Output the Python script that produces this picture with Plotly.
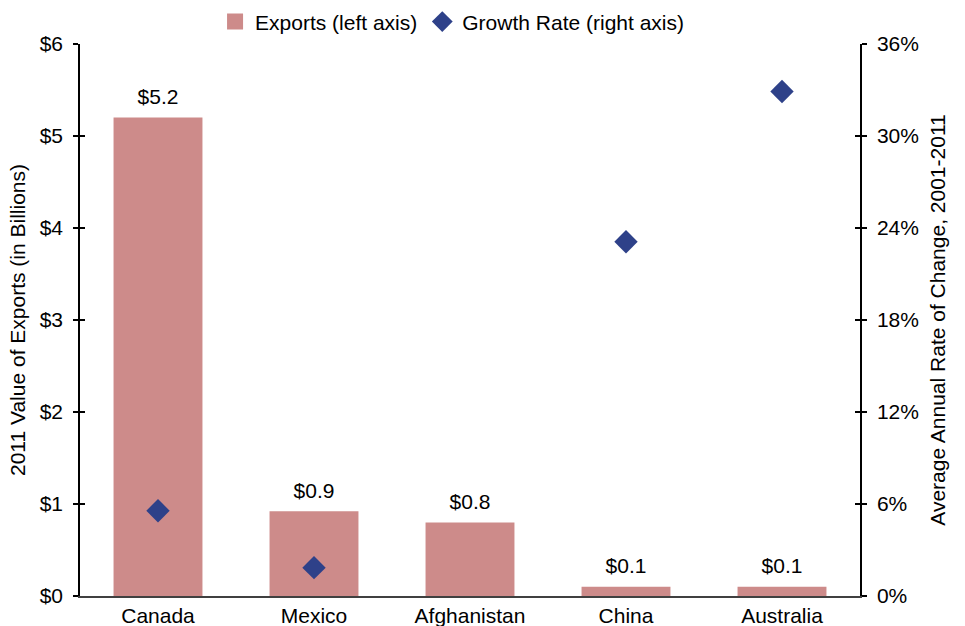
import plotly.graph_objects as go

# Top export destinations, 2011
countries = ["Canada", "Mexico", "Afghanistan", "China", "Australia"]
exports_bn = [5.2, 0.92, 0.80, 0.10, 0.10]          # 2011 value of exports, $ billions
growth_pct = [5.56, 1.85, 0, 23.1, 32.9]             # avg annual rate of change 2001-2011, %
growth_shown = [True, True, False, True, True]

left_ticks = [0, 1, 2, 3, 4, 5, 6]
left_labels = ["$0", "$1", "$2", "$3", "$4", "$5", "$6"]
right_ticks = [0, 6, 12, 18, 24, 30, 36]
right_labels = ["0%", "6%", "12%", "18%", "24%", "30%", "36%"]

FONT = "Liberation Sans, Arial, sans-serif"
FS = 21
BAR_COLOR = "#CD8B8A"
DIAMOND_COLOR = "#2E4189"

gx = [c for c, s in zip(countries, growth_shown) if s]
gy = [v for v, s in zip(growth_pct, growth_shown) if s]

fig = go.Figure()
fig.add_trace(go.Bar(
    x=countries, y=exports_bn, name="Exports (left axis)",
    marker=dict(color=BAR_COLOR, line=dict(width=0)),
    width=0.57, showlegend=False, yaxis="y",
))
# Legend entry for the bars with a larger square swatch
fig.add_trace(go.Scatter(
    x=[countries[0]], y=[None], name="Exports (left axis)", mode="markers",
    marker=dict(symbol="square", size=16, color=BAR_COLOR), yaxis="y", hoverinfo="skip",
))
# Value labels above the bars (transparent anchor marker gives the gap)
fig.add_trace(go.Scatter(
    x=countries, y=exports_bn, mode="markers+text", showlegend=False,
    marker=dict(size=12, opacity=0), hoverinfo="skip",
    texttemplate="$%{y:.1f}", textposition="top center",
    textfont=dict(size=FS, color="black", family=FONT),
    cliponaxis=False, yaxis="y",
))
fig.add_trace(go.Scatter(
    x=gx, y=gy, name="Growth Rate (right axis)", mode="markers",
    marker=dict(symbol="diamond", size=18, color=DIAMOND_COLOR),
    yaxis="y2", cliponaxis=False,
))
# Invisible traces so the inner tick overlays are drawn
fig.add_trace(go.Scatter(x=[countries[0]], y=[None], yaxis="y3", showlegend=False, hoverinfo="skip"))
fig.add_trace(go.Scatter(x=[countries[0]], y=[None], yaxis="y4", showlegend=False, hoverinfo="skip"))

tick_font = dict(size=FS, color="black", family=FONT)
fig.update_layout(
    width=965, height=626,
    margin=dict(l=80, r=105, t=44, b=30, autoexpand=False),
    paper_bgcolor="white", plot_bgcolor="white",
    font=dict(family=FONT, color="black", size=FS),
    showlegend=True,
    legend=dict(orientation="h", x=0.477, xanchor="center", y=1.04, yanchor="middle",
                font=dict(size=FS, family=FONT), itemwidth=30, traceorder="normal",
                itemsizing="trace"),
    xaxis=dict(
        type="category", range=[-0.5, 4.5], showline=True, linecolor="#404040", linewidth=2,
        ticks="", showgrid=False, tickfont=tick_font, fixedrange=True, automargin=False,
    ),
    yaxis=dict(
        range=[0, 6], tickmode="array", tickvals=left_ticks, ticktext=left_labels,
        showgrid=False, zeroline=False, automargin=False, ticklabelstandoff=6,
        showline=True, linecolor="black", linewidth=1.5, ticks="outside", ticklen=5,
        tickcolor="black", tickwidth=1.5, tickfont=tick_font,
        title=dict(text="2011 Value of Exports (in Billions)", font=dict(size=FS), standoff=8),
    ),
    yaxis2=dict(
        range=[0, 36], tickmode="array", tickvals=right_ticks, ticktext=right_labels,
        overlaying="y", side="right", automargin=False, ticklabelstandoff=6,
        showgrid=False, zeroline=False, showline=True, linecolor="black", linewidth=1.5,
        ticks="outside", ticklen=5, tickcolor="black", tickwidth=1.5, tickfont=tick_font,
        title=dict(text="Average Annual Rate of Change, 2001-2011", font=dict(size=FS), standoff=12),
    ),
    yaxis3=dict(
        range=[0, 6], tickvals=left_ticks, overlaying="y", side="left", showticklabels=False,
        showgrid=False, zeroline=False, ticks="inside", ticklen=5, tickcolor="black", tickwidth=1.5,
    ),
    yaxis4=dict(
        range=[0, 36], tickvals=right_ticks, overlaying="y", side="right", showticklabels=False,
        showgrid=False, zeroline=False, ticks="inside", ticklen=5, tickcolor="black", tickwidth=1.5,
    ),
)

fig.write_html("out.html")
